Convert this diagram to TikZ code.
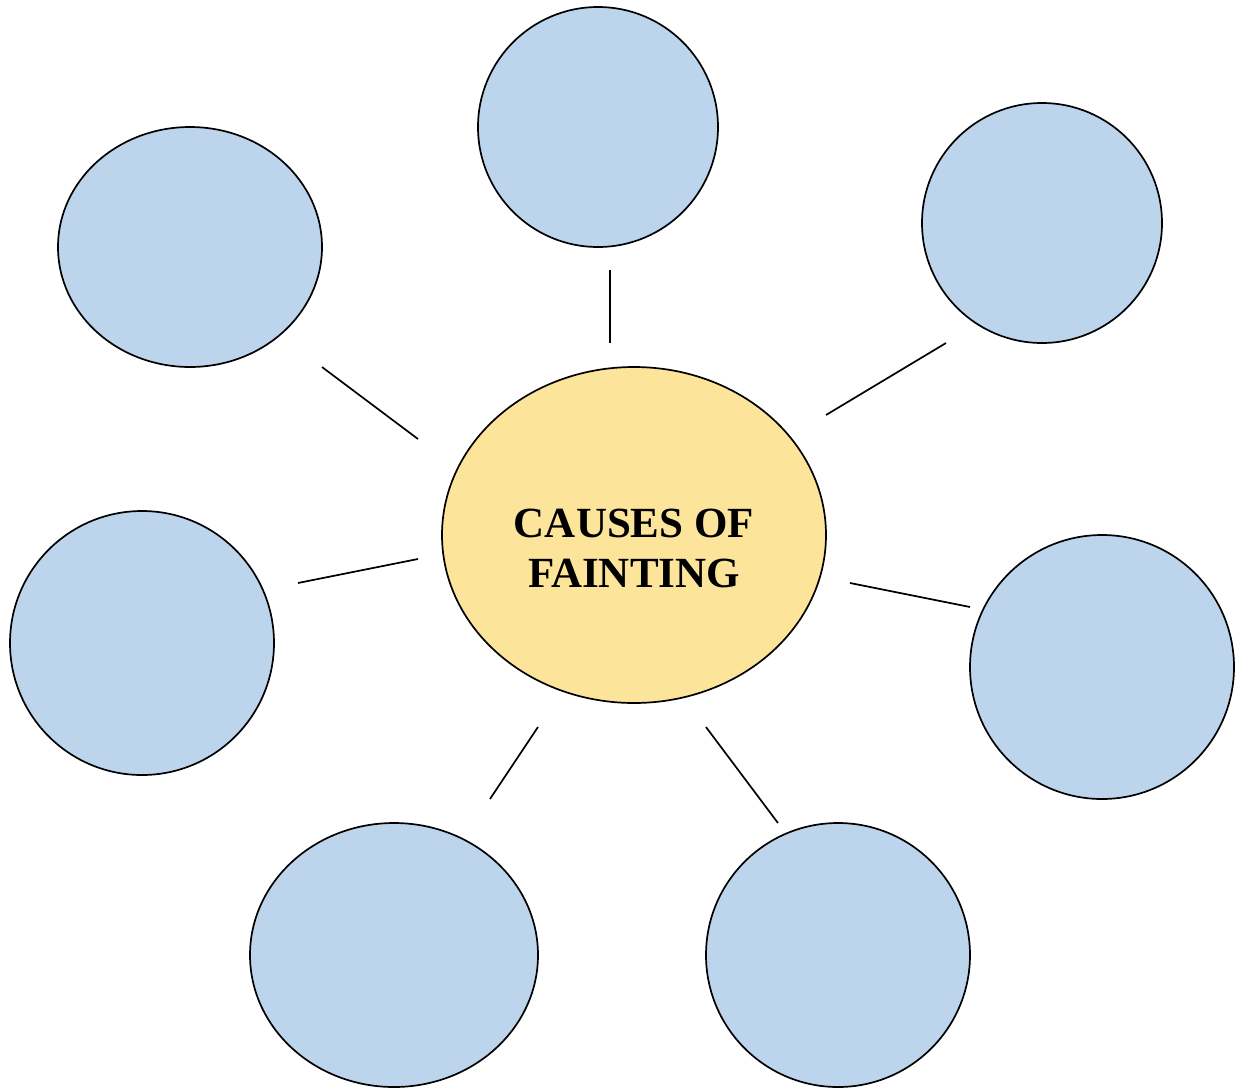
\documentclass[tikz,border=0pt]{standalone}
\usepackage{fontspec}
\setmainfont{Liberation Serif}
\usetikzlibrary{shapes.geometric}
\definecolor{bubble}{HTML}{BDD5EC}
\definecolor{hub}{HTML}{FDE49B}
\tikzset{
  bub/.style={ellipse, draw=black, line width=1.7pt, fill=bubble, inner sep=0pt},
  hubnode/.style={ellipse, draw=black, line width=1.7pt, fill=hub, inner sep=0pt},
  hubtext/.style={align=center, inner sep=0pt, font=\fontsize{43}{50}\selectfont\bfseries},
  link/.style={draw=black, line width=1.7pt}
}
\begin{document}
\begin{tikzpicture}[x=1pt,y=-1pt]
\useasboundingbox (0,0) rectangle (1237,1088);
\node[hubnode, minimum width=384pt, minimum height=336pt] (hub) at (634,535) {};
\node[hubtext] (title) at ([yshift=-13pt]hub.center) {CAUSES OF\\FAINTING};
\node[bub, minimum width=240pt, minimum height=240pt] (top) at (598,127) {};
\node[bub, minimum width=264pt, minimum height=240pt] (tl) at (190,247) {};
\node[bub, minimum width=240pt, minimum height=240pt] (tr) at (1042,223) {};
\node[bub, minimum width=264pt, minimum height=264pt] (left) at (142,643) {};
\node[bub, minimum width=264pt, minimum height=264pt] (right) at (1102,667) {};
\node[bub, minimum width=288pt, minimum height=264pt] (bl) at (394,955) {};
\node[bub, minimum width=264pt, minimum height=264pt] (br) at (838,955) {};
% connector end points
\coordinate (a1) at (610,270); \coordinate (a2) at (610,343);
\coordinate (b1) at (322,367); \coordinate (b2) at (418,439);
\coordinate (c1) at (946,343); \coordinate (c2) at (826,415);
\coordinate (d1) at (298,583); \coordinate (d2) at (418,559);
\coordinate (e1) at (850,583); \coordinate (e2) at (970,607);
\coordinate (f1) at (538,727); \coordinate (f2) at (490,799);
\coordinate (g1) at (706,727); \coordinate (g2) at (778,823);
\draw[link] (a1) -- (a2);
\draw[link] (b1) -- (b2);
\draw[link] (c1) -- (c2);
\draw[link] (d1) -- (d2);
\draw[link] (e1) -- (e2);
\draw[link] (f1) -- (f2);
\draw[link] (g1) -- (g2);
\end{tikzpicture}
\end{document}
